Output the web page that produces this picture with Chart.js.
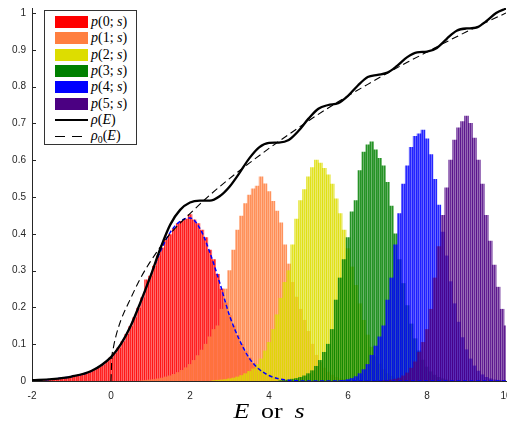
<!DOCTYPE html>
<html><head><meta charset="utf-8">
<script src="https://cdn.jsdelivr.net/npm/chart.js@4.4.1/dist/chart.umd.min.js"></script>
<style>
html,body{margin:0;padding:0;background:#fff;overflow:hidden;}
#wrap{position:relative;width:507px;height:428px;}
#c{position:absolute;left:0;top:0;}
#legend{position:absolute;left:44px;top:10px;width:93px;height:135px;border:1px solid #333;background:#fff;box-sizing:border-box;font-family:"Liberation Serif","Times New Roman",serif;font-size:14px;color:#000;}
.row{position:absolute;left:10px;height:14px;display:flex;align-items:center;white-space:nowrap;}
.sw{width:33px;height:12px;margin-right:3px;flex:none;}
.ln{width:33px;height:2px;background:#000;margin-right:3px;flex:none;}
.dl{width:30px;height:1px;margin-right:6px;flex:none;background:repeating-linear-gradient(to right,#000 0 10px,transparent 10px 17px);}
#xtitle{position:absolute;top:401px;left:32px;width:474px;text-align:center;font-family:"Liberation Serif","Times New Roman",serif;font-size:20px;line-height:20px;color:#000;transform:scaleX(1.3);transform-origin:237px 0;}
sub{font-size:70%;vertical-align:-3px;line-height:0;}
</style>
</head><body>
<div id="wrap">
<canvas id="c" width="507" height="428"></canvas>
<div id="legend"></div>
<div id="xtitle"><i>E</i><span style="margin:0 9px">or</span><i>s</i></div>
</div>
<script>
// ---- axes ----
const xTickValues = [-2, 0, 2, 4, 6, 8, 10];
const yTickValues = [0, 0.1, 0.2, 0.3, 0.4, 0.5, 0.6, 0.7, 0.8, 0.9, 1];
const xRange = [-2, 10];
const yRange = [0, 1.0136];
const BIN_WIDTH = 0.1;

// ---- histogram series (bin centres start at pNStart, step BIN_WIDTH) ----
const seriesLabels = ['p(0; s)', 'p(1; s)', 'p(2; s)', 'p(3; s)', 'p(4; s)', 'p(5; s)'];
const seriesColors = ['255,0,0', '255,127,64', '221,221,0', '0,128,0', '0,0,255', '75,0,130'];

const p0Start = -2.0;
const p0Values = [0.001,0.002,0.002,0.003,0.004,0.005,0.006,0.007,0.009,0.010,
  0.012,0.014,0.016,0.019,0.022,0.026,0.031,0.037,0.044,0.053,
  0.063,0.076,0.090,0.107,0.127,0.148,0.172,0.198,0.226,0.275,
  0.285,0.312,0.340,0.362,0.384,0.398,0.414,0.428,0.434,0.440,
  0.452,0.438,0.428,0.410,0.390,0.356,0.330,0.290,0.250,0.212,
  0.178,0.150,0.124,0.100,0.080,0.063,0.048,0.037,0.028,0.021,
  0.015,0.011,0.007,0.005,0.003,0.002,0.001];

const p1Start = 0.8;
const p1Values = [0.001,0.002,0.003,0.004,0.006,0.008,0.011,0.014,0.018,0.023,
  0.029,0.036,0.045,0.056,0.069,0.084,0.100,0.120,0.140,0.150,
  0.195,0.250,0.300,0.356,0.410,0.448,0.482,0.505,0.522,0.530,
  0.555,0.536,0.515,0.488,0.462,0.430,0.370,0.318,0.268,0.228,
  0.195,0.165,0.135,0.100,0.070,0.050,0.035,0.024,0.016,0.010,
  0.006,0.004,0.002,0.001];

const p2Start = 2.6;
const p2Values = [0.001,0.002,0.003,0.004,0.006,0.008,0.011,0.015,0.020,0.026,
  0.033,0.045,0.060,0.082,0.105,0.140,0.180,0.225,0.268,0.300,
  0.370,0.440,0.490,0.520,0.555,0.580,0.600,0.592,0.578,0.560,
  0.535,0.495,0.455,0.410,0.360,0.310,0.260,0.210,0.165,0.125,
  0.092,0.066,0.046,0.031,0.020,0.013,0.008,0.005,0.003,0.001];

const p3Start = 4.3;
const p3Values = [0.001,0.002,0.003,0.005,0.007,0.010,0.014,0.020,0.028,0.040,
  0.056,0.078,0.100,0.140,0.220,0.280,0.330,0.390,0.460,0.490,
  0.572,0.622,0.642,0.650,0.628,0.605,0.585,0.540,0.475,0.400,
  0.330,0.265,0.205,0.155,0.115,0.082,0.057,0.038,0.025,0.016,
  0.010,0.006,0.003,0.001];

const p4Start = 5.8;
const p4Values = [0.001,0.002,0.004,0.007,0.012,0.020,0.031,0.045,0.070,0.095,
  0.120,0.150,0.220,0.280,0.370,0.455,0.535,0.585,0.635,0.665,
  0.672,0.682,0.658,0.615,0.548,0.478,0.405,0.340,0.270,0.210,
  0.160,0.118,0.085,0.060,0.041,0.027,0.017,0.010,0.006,0.003,
  0.002,0.001];

const p5Start = 6.9;
const p5Values = [0.001,0.002,0.003,0.005,0.008,0.014,0.022,0.035,0.052,0.078,
  0.105,0.140,0.195,0.280,0.365,0.450,0.525,0.600,0.655,0.688,
  0.705,0.720,0.700,0.660,0.600,0.535,0.450,0.380,0.315,0.255,
  0.195,0.150];

// ---- curves ----
const rhoLabel = 'ρ(E)';
const rhoE = [-2,-1.5,-1,-0.5,0,0.25,0.5,0.75,1,1.25,1.5,1.75,2,2.25,2.5,2.75,3,3.25,3.5,3.75,4,4.25,4.5,4.75,5,5.25,5.5,5.75,6,6.25,6.5,6.75,7,7.25,7.5,7.75,8,8.25,8.5,8.75,9,9.25,9.5,9.75,10];
const rhoValues = [0.002,0.005,0.012,0.027,0.065,0.100,0.150,0.215,0.285,0.360,0.425,0.465,0.485,0.490,0.490,0.502,0.528,0.565,0.605,0.635,0.647,0.648,0.655,0.680,0.713,0.740,0.750,0.755,0.775,0.803,0.826,0.832,0.838,0.857,0.880,0.893,0.895,0.905,0.930,0.952,0.958,0.960,0.978,1.000,1.012];

const rho0Label = 'ρ₀(E)';
const rho0E = [0,0.02,0.06,0.12,0.25,0.5,0.75,1,1.5,2,2.5,3,3.5,4,4.5,5,5.5,6,6.5,7,7.5,8,8.5,9,9.5,10];
const rho0Values = [0,0.06,0.09,0.12,0.165,0.225,0.28,0.325,0.40,0.455,0.505,0.55,0.592,0.632,0.67,0.707,0.742,0.775,0.806,0.837,0.866,0.894,0.922,0.949,0.975,1.0];

const fitE = [-2,-1.5,-1,-0.5,0,0.25,0.5,0.75,1,1.25,1.5,1.75,2,2.25,2.5,2.75,3,3.25,3.5,3.75,4,4.25,4.5,5,6,7,8,9,10];
const fitValues = [0.002,0.005,0.012,0.027,0.065,0.100,0.150,0.213,0.285,0.352,0.404,0.434,0.443,0.415,0.350,0.268,0.178,0.112,0.062,0.032,0.015,0.006,0.002,0,0,0,0,0,0];

// ---- build ----
const canvas = document.getElementById('c');
const ctx2d = canvas.getContext('2d');
function stripe(rgb){
  const c = document.createElement('canvas'); c.width = 2; c.height = 1;
  const g = c.getContext('2d');
  g.fillStyle = 'rgba(' + rgb + ',0.85)'; g.fillRect(0,0,1,1);
  g.fillStyle = 'rgba(' + rgb + ',0.58)'; g.fillRect(1,0,1,1);
  return ctx2d.createPattern(c, 'repeat');
}
const hist = [[p0Start,p0Values],[p1Start,p1Values],[p2Start,p2Values],[p3Start,p3Values],[p4Start,p4Values],[p5Start,p5Values]];
const datasets = [];
hist.forEach(([start, vals], k) => {
  datasets.push({
    type: 'bar', label: seriesLabels[k],
    data: vals.map((v, i) => ({x: +(start + i * BIN_WIDTH).toFixed(2), y: v})),
    backgroundColor: stripe(seriesColors[k]), borderWidth: 0,
    grouped: false, barPercentage: 1, categoryPercentage: 1, order: 20 - k
  });
});
const pts = (xs, ys) => xs.map((x, i) => ({x: x, y: ys[i]}));
datasets.push({type:'line', label:'fit', data: pts(fitE, fitValues), borderColor:'#0000ff', borderWidth:1.5, borderDash:[4,2.5], pointRadius:0, cubicInterpolationMode:'monotone', fill:false, order:3});
datasets.push({type:'line', label:rho0Label, data: pts(rho0E, rho0Values), borderColor:'#000', borderWidth:1.1, borderDash:[7,4], pointRadius:0, cubicInterpolationMode:'monotone', fill:false, order:2});
datasets.push({type:'line', label:rhoLabel, data: pts(rhoE, rhoValues), borderColor:'#000', borderWidth:2.3, pointRadius:0, cubicInterpolationMode:'monotone', fill:false, order:1});

const tickFont = {family: '"Liberation Sans", Arial, sans-serif', size: 10};
const inTicks = {
  id: 'inTicks',
  afterDraw(chart){
    const {ctx, scales:{y}, chartArea} = chart;
    ctx.save(); ctx.strokeStyle = '#262626'; ctx.lineWidth = 1;
    yTickValues.forEach(v => {
      const py = Math.round(y.getPixelForValue(v)) + 0.5;
      ctx.beginPath(); ctx.moveTo(chartArea.left, py); ctx.lineTo(chartArea.left + 4, py); ctx.stroke();
    });
    ctx.restore();
  }
};

new Chart(canvas, {
  type: 'bar',
  data: {datasets},
  options: {
    responsive: false, animation: false, devicePixelRatio: 1,
    layout: {padding: {top: 8, right: 1, left: 0, bottom: 0}},
    plugins: {legend: {display: false}, tooltip: {enabled: false}, title: {display: false}},
    scales: {
      x: {
        type: 'linear', min: xRange[0], max: xRange[1], offset: false, z: 1,
        grid: {display: false, drawTicks: false, offset: false},
        border: {display: true, color: '#262626', width: 1},
        ticks: {font: tickFont, color: '#262626', padding: 9, maxRotation: 0, autoSkip: false,
                callback: v => String(v)},
        afterBuildTicks: s => { s.ticks = xTickValues.map(v => ({value: v})); },
        afterFit: s => { s.height = 47; s.paddingLeft = 0; s.paddingRight = 0; }
      },
      y: {
        min: yRange[0], max: yRange[1], z: 1,
        grid: {display: false, drawTicks: false},
        border: {display: true, color: '#262626', width: 1},
        ticks: {font: tickFont, color: '#262626', padding: 6, autoSkip: false,
                callback: v => String(Math.round(v * 10) / 10)},
        afterBuildTicks: s => { s.ticks = yTickValues.map(v => ({value: v})); },
        afterFit: s => { s.width = 32; s.paddingTop = 0; s.paddingBottom = 0; }
      }
    }
  },
  plugins: [inTicks]
});

// ---- legend (HTML) ----
function mathHTML(t){
  let out = '';
  for (const ch of t){
    if (/[A-Za-zρ]/.test(ch)) out += '<i>' + ch + '</i>';
    else if (ch === '₀') out += '<sub>0</sub>';
    else if (ch === ' ') out += '&nbsp;';
    else out += ch;
  }
  return out;
}
const legend = document.getElementById('legend');
const legendItems = seriesLabels.map((l, k) => ({label: l, kind: 'box', color: 'rgb(' + seriesColors[k] + ')'}))
  .concat([{label: rhoLabel, kind: 'line'}, {label: rho0Label, kind: 'dash'}]);
legendItems.forEach((it, i) => {
  const row = document.createElement('div');
  row.className = 'row';
  row.style.top = (11 + 16.3 * i - 7) + 'px';
  let sw;
  if (it.kind === 'box'){ sw = '<div class="sw" style="background:' + it.color + '"></div>'; }
  else if (it.kind === 'line'){ sw = '<div class="ln"></div>'; }
  else { sw = '<div class="dl"></div>'; }
  row.innerHTML = sw + '<span>' + mathHTML(it.label) + '</span>';
  legend.appendChild(row);
});
</script>
</body></html>
